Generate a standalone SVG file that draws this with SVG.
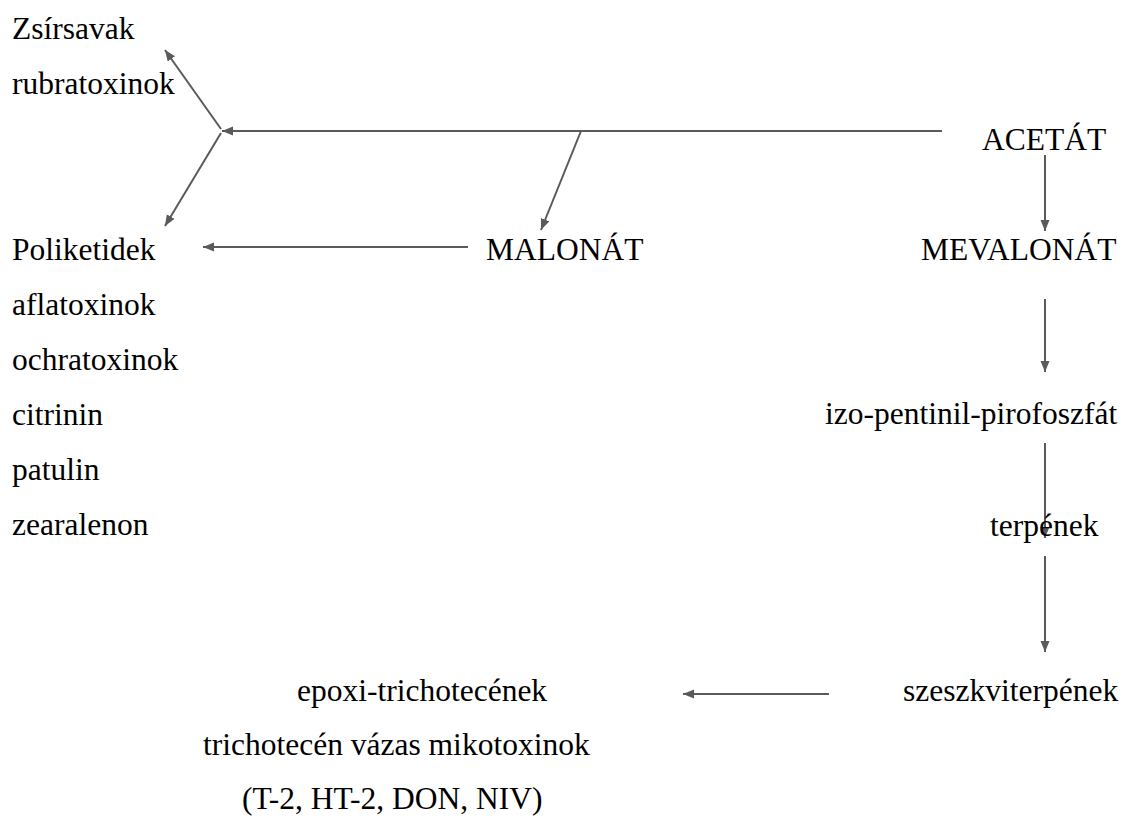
<svg xmlns="http://www.w3.org/2000/svg" width="1125" height="818" viewBox="0 0 1125 818">
<defs>
<style>
text{font-family:"Liberation Serif","Times New Roman",serif;font-size:31.5px;fill:#000}
.c{stroke:#5a5a5a;stroke-width:2;fill:none}
.a{marker-end:url(#ah)}
</style>
<marker id="ah" markerUnits="userSpaceOnUse" markerWidth="12" markerHeight="10" refX="11" refY="4.5" orient="auto">
<path d="M0,0 L11,4.5 L0,9 z" fill="#5a5a5a"/>
</marker>
</defs>
<rect width="1125" height="818" fill="#fff"/>
<g id="connectors">
<line class="c a" x1="942" y1="131" x2="222" y2="131"/>
<line class="c a" x1="221" y1="129" x2="165" y2="50"/>
<line class="c a" x1="221" y1="133" x2="165" y2="226"/>
<line class="c a" x1="581" y1="131" x2="541" y2="230"/>
<line class="c a" x1="468" y1="247" x2="203" y2="247"/>
<line class="c a" x1="1045" y1="155" x2="1045" y2="231"/>
<line class="c a" x1="1045" y1="299" x2="1045" y2="372"/>
<line class="c a" x1="1045" y1="443" x2="1045" y2="538"/>
<line class="c a" x1="1045" y1="556" x2="1045" y2="652"/>
<line class="c a" x1="829" y1="694" x2="683" y2="694"/>
</g>
<g id="zsirsavak"><text x="12" y="39">Zsírsavak</text><text x="12" y="94">rubratoxinok</text></g>
<g id="acetat"><text x="982" y="150">ACETÁT</text></g>
<g id="malonat"><text x="486" y="260">MALONÁT</text></g>
<g id="mevalonat"><text x="921" y="260">MEVALONÁT</text></g>
<g id="poliketidek">
<text x="12" y="260">Poliketidek</text>
<text x="12" y="315">aflatoxinok</text>
<text x="12" y="370">ochratoxinok</text>
<text x="12" y="425">citrinin</text>
<text x="12" y="480">patulin</text>
<text x="12" y="535">zearalenon</text>
</g>
<g id="izopentinil"><text x="825" y="424">izo-pentinil-pirofoszfát</text></g>
<g id="terpenek"><text x="990" y="536">terpének</text></g>
<g id="szeszkviterpenek"><text x="903" y="701">szeszkviterpének</text></g>
<g id="trichotecenek">
<text x="297" y="701">epoxi-trichotecének</text>
<text x="203" y="755">trichotecén vázas mikotoxinok</text>
<text x="242" y="809">(T-2, HT-2, DON, NIV)</text>
</g>
</svg>
